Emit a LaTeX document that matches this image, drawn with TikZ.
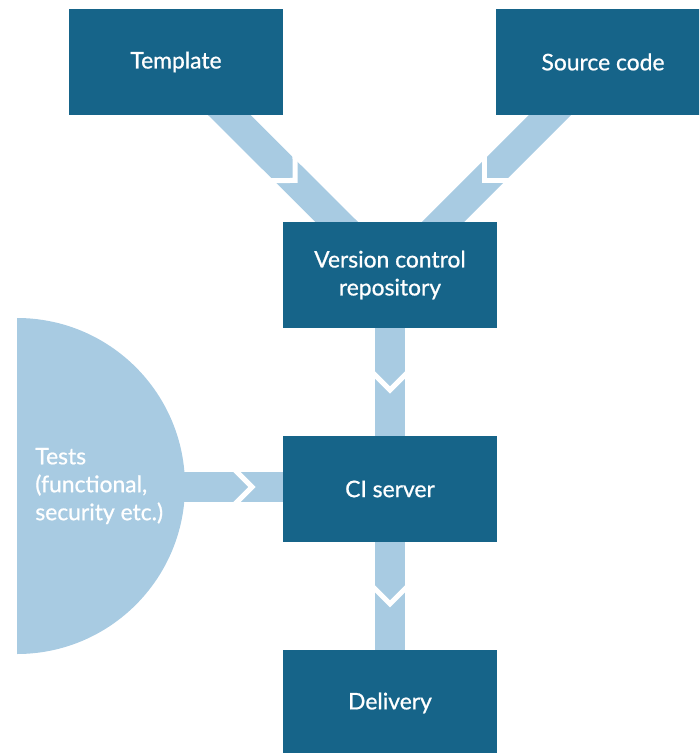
\documentclass[tikz,border=0pt]{standalone}
\usepackage{fontspec}
\setmainfont{Lato}[FakeBold=0.8]
\newfontfamily\labelfont{Lato}[FakeBold=0.8]
\usetikzlibrary{positioning, backgrounds, decorations.markings}
\definecolor{boxblue}{HTML}{166489}
\definecolor{flowblue}{HTML}{A8CBE2}

\begin{document}
\begin{tikzpicture}[x=0.02cm, y=-0.02cm,
  stage/.style={rectangle, fill=boxblue, text=white, minimum width=4.28cm, minimum height=2.12cm, inner sep=0pt, outer sep=0pt, align=center, font=\labelfont\fontsize{13}{15.9}\selectfont},
  flow/.style={draw=flowblue, line width=0.6cm},
  chevron/.style={decoration={markings, mark=at position #1 with {\draw[white, line width=0.1cm] (-20,20) -- (0,0) -- (-20,-20);}}, postaction={decorate}}
]
  \useasboundingbox (0,0) rectangle (699,753);
  \clip (0,0) rectangle (699,753);

  \node[stage] (vcr) at (390,275) {Version control\\repository};
  \node[stage, below=2.16cm of vcr] (ci) {CI server};
  \node[stage, below=2.16cm of ci] (dlv) {Delivery};
  \node[stage] (tmpl) at (176,62) {Template};
  \node[stage] (src) at (603,62) {Source code};

  % tests half disc
  \fill[flowblue] (17,486) ++(0,-168) arc[start angle=-90, end angle=90, radius=168] -- cycle;
  \node[anchor=west, align=left, inner sep=0pt, text=white, font=\labelfont\fontsize{13}{15.9}\selectfont] (tests) at (35,486) {Tests\\(functional,\\security etc.)};
  \coordinate (testsedge) at (184,487);

  \begin{scope}[on background layer]
    \draw[flow, chevron=3.36cm] (tmpl.center) -- (vcr.center);
    \draw[flow, chevron=3.36cm] (src.center) -- (vcr.center);
    \draw[flow, chevron=2.3cm] (vcr.center) -- (ci.center);
    \draw[flow, chevron=2.3cm] (ci.center) -- (dlv.center);
    \draw[flow, chevron=1.36cm] (testsedge) -- (testsedge -| ci.center);
  \end{scope}
\end{tikzpicture}
\end{document}
